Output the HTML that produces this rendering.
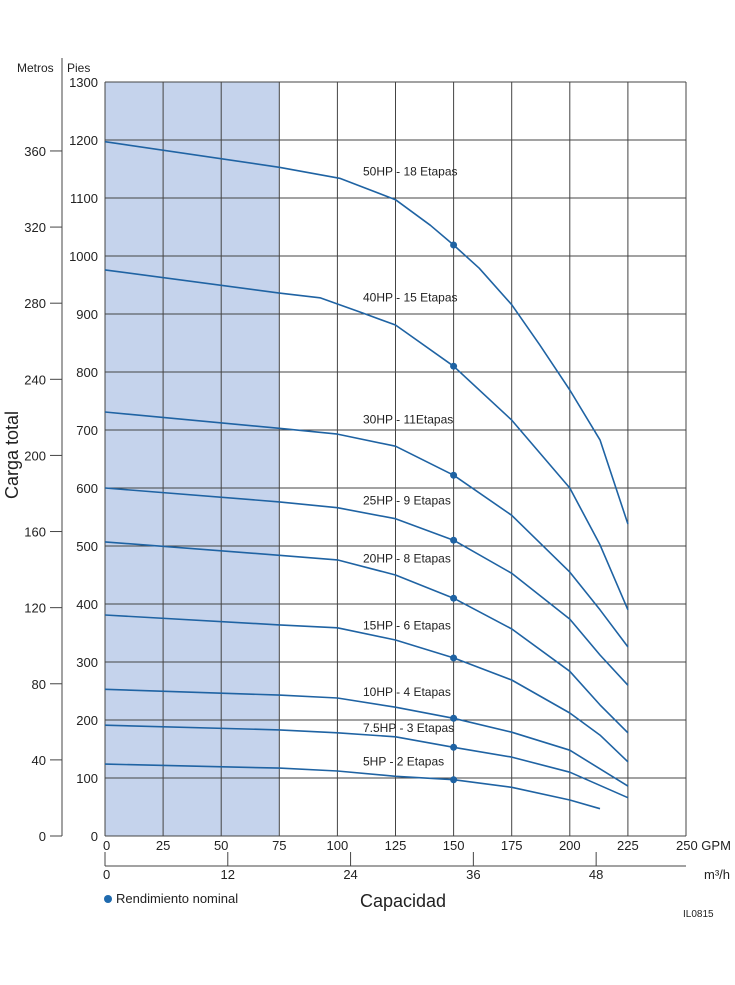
<!DOCTYPE html>
<html><head><meta charset="utf-8"><style>
body{margin:0;background:#fff;}
svg text{font-family:"Liberation Sans",sans-serif;fill:#222;}
</style></head><body>
<svg id="chart" width="735" height="980" viewBox="0 0 735 980" xmlns="http://www.w3.org/2000/svg">
<g id="g"></g>
</svg>
<script>
const gpmTicks=[0,25,50,75,100,125,150,175,200,225,250];
const ftTicks=[0,100,200,300,400,500,600,700,800,900,1000,1100,1200,1300];
const mTicks=[0,40,80,120,160,200,240,280,320,360];
const m3hTicks=[0,12,24,36,48];
const curveNames=["50HP - 18 Etapas","40HP - 15 Etapas","30HP - 11Etapas","25HP - 9 Etapas","20HP - 8 Etapas","15HP - 6 Etapas","10HP - 4 Etapas","7.5HP - 3 Etapas","5HP - 2 Etapas"];
const gpm50=[0,75,101,125,140,150,161,175,187,200,213,225];
const ft50=[1197,1153,1134,1097,1053,1019,979,916,847,769,683,538];
const gpm40=[0,75,92.5,110,125,150,175,200,213,225];
const ft40=[976,936,928,903,881,810,717,600,502,390];
const gpmStd=[0,75,100,125,150,175,200,213,225];
const ft30=[731,703,693,672,622,553,455,390,326];
const ft25=[600,576,566,547,510,453,374,312,260];
const ft20=[507,484,476,450,410,357,284,226,178];
const ft15=[381,364,359,338,307,269,212,174,128];
const gpm10=[0,75,100,125,150,175,200,225];
const ft10=[253,243,238,222,203,179,148,86];
const ft75=[191,183,178,171,153,136,110,66];
const gpm5=[0,75,100,125,150,175,200,213];
const ft5=[124,117,112,103,97,84,62,47];
const ratedGpm=150;
const labelFt=[1147,930,720,580,480,365,250,188,130];

const X0=105,X1=686,Y0=836,Y1=82;
const xs=v=>X0+(v/250)*(X1-X0);
const ys=v=>Y0-(v/1300)*(Y0-Y1);
const m2ft=3.28084;
const ym=v=>ys(v*m2ft);
const xm3=v=>xs(v*4.402868);
const NS="http://www.w3.org/2000/svg";
const g=document.getElementById('g');
function mk(t,a,txt){const e=document.createElementNS(NS,t);for(const k in a)e.setAttribute(k,a[k]);if(txt!==undefined)e.textContent=txt;g.appendChild(e);return e;}

let e=mk('rect',{x:xs(0),y:Y1,width:xs(75)-xs(0),height:Y0-Y1,fill:'#c5d3ec'});


gpmTicks.forEach(t=>{
 e=mk('line',{x1:xs(t),x2:xs(t),y1:Y1,y2:Y0,stroke:'#444','stroke-width':1});
 
 
 e=mk('text',{x:xs(t)+(t===0?-2:0),y:Y0+14,'font-size':13,'text-anchor':t===0?'start':'middle'},t===250?'250 GPM':String(t));
 if(t===250){e.setAttribute('x',xs(t)-10);e.setAttribute('text-anchor','start');}
 
 
});
ftTicks.forEach(t=>{
 e=mk('line',{x1:X0,x2:X1,y1:ys(t),y2:ys(t),stroke:'#444','stroke-width':1});
 
 
 e=mk('text',{x:98,y:ys(t)+5,'font-size':13,'text-anchor':'end'},String(t));
 
 
});
e=mk('line',{x1:62,x2:62,y1:58,y2:836,stroke:'#444'});


mTicks.forEach(t=>{
 e=mk('line',{x1:50,x2:62,y1:ym(t),y2:ym(t),stroke:'#444'});
 
 
 e=mk('text',{x:46,y:ym(t)+5,'font-size':13,'text-anchor':'end'},String(t));
 
 
});
e=mk('text',{x:17,y:72,'font-size':12},'Metros');


e=mk('text',{x:67,y:72,'font-size':12},'Pies');


e=mk('text',{x:18,y:455,'font-size':18,'text-anchor':'middle',transform:'rotate(-90 18 455)'},'Carga total');


// m3/h axis
e=mk('line',{x1:xs(0),x2:X1,y1:866,y2:866,stroke:'#444'});


m3hTicks.forEach(t=>{
 e=mk('line',{x1:xm3(t),x2:xm3(t),y1:852,y2:866,stroke:'#444'});
 
 
 e=mk('text',{x:xm3(t)+(t===0?-2:0),y:879,'font-size':13,'text-anchor':t===0?'start':'middle'},String(t));
 
 
});
e=mk('text',{x:704,y:879,'font-size':13},'m³/h');


e=mk('text',{x:403,y:907,'font-size':18,'text-anchor':'middle'},'Capacidad');


e=mk('circle',{cx:108,cy:899,r:4,fill:'#1f6aae'});


e=mk('text',{x:116,y:903,'font-size':13},'Rendimiento nominal');


e=mk('text',{x:683,y:917,'font-size':10},'IL0815');



const series=[[gpm50,ft50],[gpm40,ft40],[gpmStd,ft30],[gpmStd,ft25],[gpmStd,ft20],[gpmStd,ft15],[gpm10,ft10],[gpm10,ft75],[gpm5,ft5]];
function interp(xa,ya,x){for(let i=0;i<xa.length-1;i++){if(x>=xa[i]&&x<=xa[i+1]){const f=(x-xa[i])/(xa[i+1]-xa[i]);return ya[i]+f*(ya[i+1]-ya[i]);}}return ya[ya.length-1];}
series.forEach((s,i)=>{
 const [xa,ya]=s;
 const d=xa.map((v,j)=>(j?'L':'M')+xs(v).toFixed(1)+','+ys(ya[j]).toFixed(1)).join(' ');
 e=mk('path',{d:d,fill:'none',stroke:'#1f63a3','stroke-width':1.6,'stroke-linejoin':'round'});
 
 
 e=mk('circle',{cx:xs(ratedGpm),cy:ys(interp(xa,ya,ratedGpm)),r:3.5,fill:'#1f63a3'});
 
 
 e=mk('text',{x:363,y:ys(labelFt[i])+5,'font-size':12},curveNames[i]);
 
 
});
</script>
</body></html>
